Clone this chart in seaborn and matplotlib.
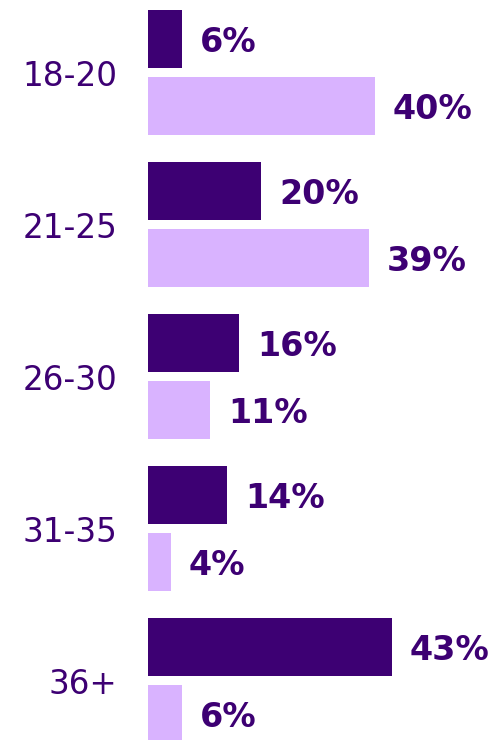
import pandas as pd
import matplotlib.pyplot as plt
import seaborn as sns

# data ----------------
ages = ['18-20', '21-25', '26-30', '31-35', '36+']
series_names = ['Series 1', 'Series 2']
series_1 = [6, 20, 16, 14, 43]
series_2 = [40, 39, 11, 4, 6]

DARK = '#3d0073'
LIGHT = '#d9b3ff'

df = pd.DataFrame({
    'age': ages * 2,
    'series': [series_names[0]] * len(ages) + [series_names[1]] * len(ages),
    'pct': series_1 + series_2,
})

sns.set_style('white')
plt.rcParams['font.family'] = ['DejaVu Sans']

fig = plt.figure(figsize=(4.99, 7.40), dpi=100)
ax = fig.add_axes([148 / 499, 0, 1 - 148 / 499, 1])

sns.barplot(data=df, y='age', x='pct', hue='series', orient='h',
            palette=[DARK, LIGHT], saturation=1, width=0.88, gap=0.132,
            legend=False, ax=ax, linewidth=0)

# percentage labels after each bar (sit a touch below bar centre)
for container in ax.containers:
    texts = ax.bar_label(container, labels=[f'{v:.0f}%' for v in container.datavalues],
                         padding=13, fontsize=24, fontweight='bold', color=DARK)
    for t in texts:
        t.xyann = (t.xyann[0], t.xyann[1] - 2.5)

ax.set_xlim(0, 351 / 5.67)
ax.set_ylim(4.391, -0.477)
ax.set_xlabel('')
ax.set_ylabel('')
ax.set_xticks([])
ax.tick_params(axis='y', length=0, pad=22, labelsize=23.5, labelcolor=DARK)
sns.despine(ax=ax, left=True, bottom=True)

fig.savefig('out.png', dpi=100)
